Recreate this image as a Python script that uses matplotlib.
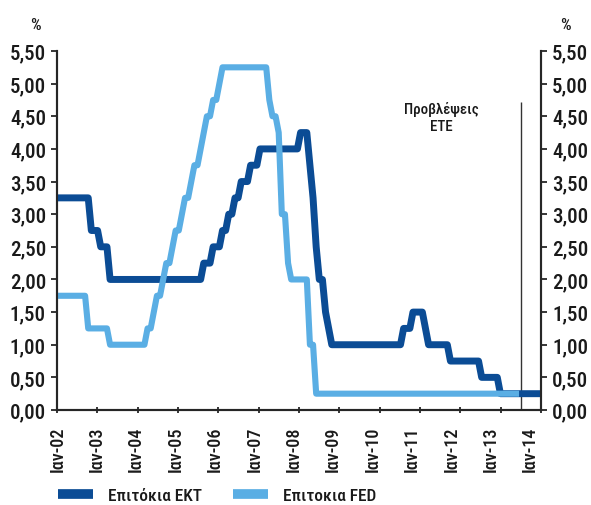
import numpy as np
import matplotlib
matplotlib.use('Agg')
from matplotlib import pyplot as plt
from matplotlib import font_manager
from matplotlib.lines import Line2D
from matplotlib.ticker import FuncFormatter

# prefer a narrow face if one is around
installed = {f.name for f in font_manager.fontManager.ttflist}
narrow = [n for n in ['DejaVu Sans Condensed', 'Liberation Sans Narrow',
                      'Roboto Condensed', 'Open Sans Condensed'] if n in installed]
if narrow:
    plt.rcParams['font.family'] = [narrow[0], 'DejaVu Sans']
    base = 15
else:
    plt.rcParams['font.family'] = ['DejaVu Sans']
    base = 11
plt.rcParams['font.size'] = base
plt.rcParams['font.weight'] = 'medium'

# Policy rates, end of month values starting Ιαν-02.
# Each rate is held for the given number of months.
ecb_rates = [3.25, 2.75, 2.50, 2.00, 2.25, 2.50, 2.75, 3.00, 3.25, 3.50, 3.75,
             4.00, 4.25, 3.75, 3.25, 2.50, 2.00, 1.50, 1.25, 1.00, 1.25, 1.50,
             1.25, 1.00, 0.75, 0.50, 0.25]
ecb_months = [11, 3, 3, 30, 3, 3, 2, 2, 2, 3, 3,
              13, 3, 1, 1, 1, 2, 1, 1, 23, 3, 4,
              1, 7, 10, 6, 14]

fed_rates = [1.75, 1.25, 1.00, 1.25, 1.50, 1.75, 2.00, 2.25, 2.50, 2.75, 3.00,
             3.25, 3.50, 3.75, 4.00, 4.25, 4.50, 4.75, 5.00, 5.25, 4.75, 4.50,
             4.25, 3.00, 2.25, 2.00, 1.00, 0.25]
fed_months = [10, 7, 12, 2, 1, 2, 1, 2, 1, 2, 1,
              2, 1, 2, 1, 1, 2, 2, 1, 15, 1, 2,
              1, 2, 1, 6, 2, 65]

years = ['02', '03', '04', '05', '06', '07', '08', '09', '10', '11', '12', '13', '14']
tick_labels = ['Ιαν-' + y for y in years]
y_ticks = [0, 0.5, 1, 1.5, 2, 2.5, 3, 3.5, 4, 4.5, 5, 5.5]

forecast_start = 148.5   # month index where the forecast period begins
forecast_top = 4.72

ecb = np.repeat(ecb_rates, ecb_months)
fed = np.repeat(fed_rates, fed_months)

dark = '#0b4c95'
light = '#5aaee4'
axcol = '#262626'
txtcol = '#1a1a1a'

fig = plt.figure(figsize=(5.91, 5.06), dpi=100)
ax = fig.add_axes([57/591, 1 - 411/506, 484/591, 359/506])

ax.plot(np.arange(len(ecb)), ecb, color=dark, lw=5, solid_joinstyle='round', zorder=3)
ax.plot(np.arange(len(fed)), fed, color=light, lw=4.4, solid_joinstyle='round', zorder=4)
ax.vlines(forecast_start, 0, forecast_top, color='#333333', lw=1, zorder=2)
ax.text(123.2, 4.49, 'Προβλέψεις\nΕΤΕ', ha='center', va='center',
        fontsize=base * 0.72, linespacing=1.3, color=txtcol)

ax.set_xlim(0, len(ecb) - 1)
ax.set_ylim(0, 5.5)

# year ticks on the axis, labels sit on their own (minor) positions
ax.set_xticks(np.linspace(0, len(ecb) - 1, 13))
ax.set_xticklabels([])
ax.set_xticks(np.linspace(0.1, 151.5, 13), minor=True)
ax.set_xticklabels(tick_labels, minor=True, rotation=90)
ax.tick_params(axis='x', which='minor', length=0, pad=11, labelsize=base * 0.87,
               labelcolor=txtcol)
ax.tick_params(axis='x', which='major', length=5, width=1.3, color=axcol, direction='inout')

fmt = FuncFormatter(lambda v, p: '{:.2f}'.format(v).replace('.', ','))
ax.set_yticks(y_ticks)
ax.yaxis.set_major_formatter(fmt)
ax.tick_params(axis='y', length=4, width=1.3, color=axcol, pad=4, labelcolor=txtcol)

ax2 = ax.twinx()
ax2.set_ylim(0, 5.5)
ax2.set_yticks(y_ticks)
ax2.yaxis.set_major_formatter(fmt)
ax2.tick_params(axis='y', length=4, width=1.3, color=axcol, pad=4, labelcolor=txtcol)

for a in (ax, ax2):
    a.spines['top'].set_visible(False)
    for s in ('left', 'right', 'bottom'):
        a.spines[s].set_color(axcol)
        a.spines[s].set_linewidth(1.5)

fig.text(35/591, 1 - 25/506, '%', ha='center', va='center', fontsize=base * 0.8, color=txtcol)
fig.text(565/591, 1 - 25/506, '%', ha='center', va='center', fontsize=base * 0.8, color=txtcol)

leg_size = base * 0.83
em = leg_size * 100 / 72
handles = [Line2D([], [], color=dark, lw=7, solid_capstyle='butt'),
           Line2D([], [], color=light, lw=7, solid_capstyle='butt')]
fig.legend(handles, ['Επιτόκια ΕΚΤ', 'Επιτοκια FED'], loc='center left',
           bbox_to_anchor=(58/591, 1 - 496/506), ncol=2, frameon=False,
           fontsize=leg_size, borderpad=0, borderaxespad=0, handlelength=35 / em,
           handletextpad=15 / em, columnspacing=31 / em, labelcolor=txtcol)

fig.savefig('out.png', dpi=100)
